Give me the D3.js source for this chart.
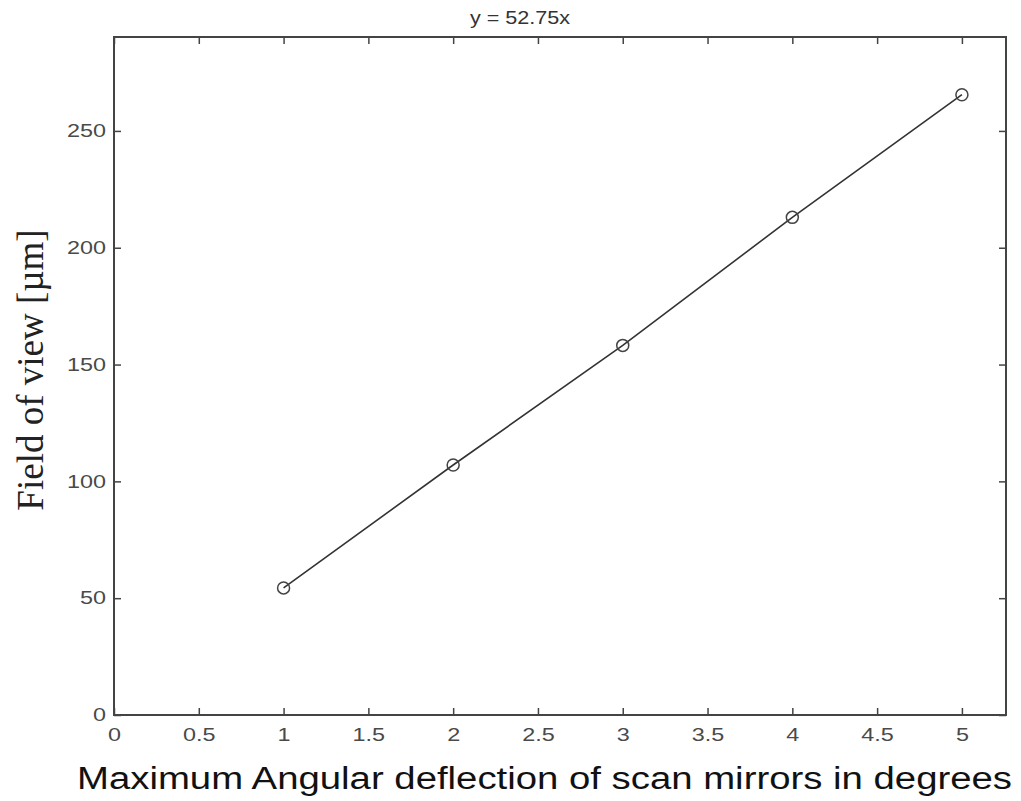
<!DOCTYPE html>
<html><head><meta charset="utf-8">
<script src="https://cdn.jsdelivr.net/npm/d3@7"></script>
<style>body{margin:0;background:#fff}</style>
</head><body>
<svg id="c" width="1021" height="801"></svg>
<script>
const xValues = [1, 2, 3, 4, 5];
const yValues = [54.4, 107.0, 158.2, 213.0, 265.5];
const xTicks = [0, 0.5, 1, 1.5, 2, 2.5, 3, 3.5, 4, 4.5, 5];
const yTicks = [0, 50, 100, 150, 200, 250];
const titleText = "y = 52.75x";
const xLabel = "Maximum Angular deflection of scan mirrors in degrees";
const yLabel = "Field of view [\u00b5m]";

const L = 114, R = 1006, T = 37, B = 715;
const svg = d3.select("#c");
const x = d3.scaleLinear().domain([0, 5.26]).range([L, R]);
const y = d3.scaleLinear().domain([0, 290.2]).range([B, T]);

const axColor = "#444";
const fmt = d => String(d);
const sx = 1.3;

function styleAxis(g) {
  g.select(".domain").remove();
  g.selectAll(".tick line").attr("stroke", axColor).attr("stroke-width", 1.5);
  g.selectAll(".tick text").attr("fill", "#4a4a4a")
    .style("font-family", "Liberation Sans, Arial, sans-serif").style("font-size", "18px");
}

// bottom axis
svg.append("g").attr("transform", `translate(0,${B})`)
  .call(d3.axisBottom(x).tickValues(xTicks).tickFormat(fmt).tickSizeInner(-7).tickSizeOuter(0).tickPadding(13))
  .call(styleAxis)
  .call(g => g.selectAll(".tick text").attr("transform", `scale(${sx},1)`));
// top axis (ticks only)
svg.append("g").attr("transform", `translate(0,${T})`)
  .call(d3.axisTop(x).tickValues(xTicks).tickFormat("").tickSizeInner(-7).tickSizeOuter(0))
  .call(styleAxis);
// left axis
svg.append("g").attr("transform", `translate(${L},0)`)
  .call(d3.axisLeft(y).tickValues(yTicks).tickFormat(fmt).tickSizeInner(-7).tickSizeOuter(0).tickPadding(0))
  .call(styleAxis)
  .call(g => g.selectAll(".tick text").attr("x", -8 / sx).attr("transform", `scale(${sx},1)`));
// right axis (ticks only)
svg.append("g").attr("transform", `translate(${R},0)`)
  .call(d3.axisRight(y).tickValues(yTicks).tickFormat("").tickSizeInner(-7).tickSizeOuter(0))
  .call(styleAxis);

svg.append("rect").attr("x", L).attr("y", T).attr("width", R - L).attr("height", B - T)
  .attr("fill", "none").attr("stroke", axColor).attr("stroke-width", 2);

const pts = xValues.map((v, i) => [v, yValues[i]]);
svg.append("path").datum(pts)
  .attr("d", d3.line().x(d => x(d[0])).y(d => y(d[1])))
  .attr("fill", "none").attr("stroke", "#333").attr("stroke-width", 1.6);
svg.selectAll("circle.pt").data(pts).enter().append("circle")
  .attr("cx", d => x(d[0])).attr("cy", d => y(d[1])).attr("r", 6)
  .attr("fill", "none").attr("stroke", "#444").attr("stroke-width", 1.5);

// title
svg.append("text").attr("transform", `translate(520,24) scale(1.2,1)`).attr("text-anchor", "middle")
  .attr("fill", "#333").style("font-family", "Liberation Sans, Arial, sans-serif").style("font-size", "18px")
  .text(titleText);

// x label
svg.append("text").attr("x", 77).attr("y", 789)
  .attr("textLength", 935).attr("lengthAdjust", "spacingAndGlyphs")
  .attr("fill", "#111").style("font-family", "Liberation Sans, Arial, sans-serif").style("font-size", "31px")
  .text(xLabel);

// y label
svg.append("text").attr("transform", `translate(43,370) rotate(-90)`).attr("text-anchor", "middle")
  .attr("fill", "#222").style("font-family", "Liberation Serif, Times New Roman, serif").style("font-size", "37px")
  .text(yLabel);
</script>
</body></html>
